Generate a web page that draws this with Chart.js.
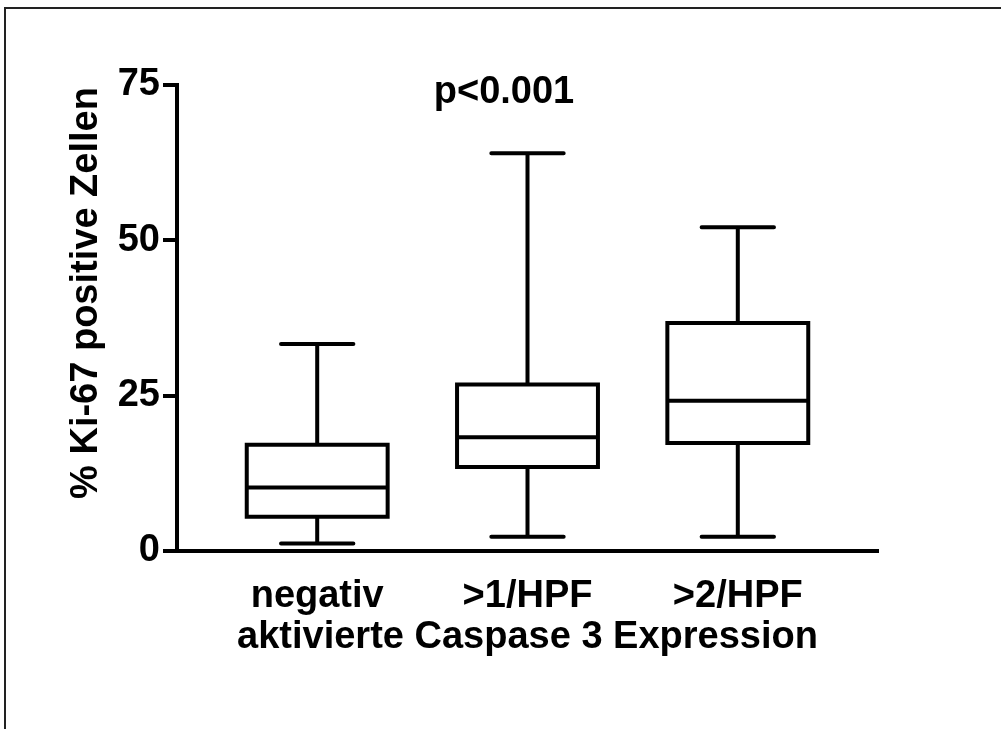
<!DOCTYPE html>
<html>
<head>
<meta charset="utf-8">
<script src="https://cdn.jsdelivr.net/npm/chart.js@4.4.1/dist/chart.umd.min.js"></script>
<style>
html, body { margin: 0; padding: 0; background: #fff; }
#wrap { position: relative; width: 1001px; height: 729px; overflow: hidden; background: #fff; }
#frame { position: absolute; left: 4px; top: 7px; width: 1200px; height: 900px; border-left: 2px solid #222; border-top: 2px solid #222; }
#chart { position: absolute; left: 0; top: 0; }
</style>
</head>
<body>
<div id="wrap">
  <div id="frame"></div>
  <canvas id="chart" width="1001" height="729"></canvas>
</div>
<script>
// values
const categories = ['negativ', '>1/HPF', '>2/HPF'];
const lowWhisker = [1.2, 2.3, 2.3];
const lowerQuartile = [5.5, 13.5, 17.4];
const medians = [10.2, 18.3, 24.2];
const upperQuartile = [17.1, 26.8, 36.7];
const highWhisker = [33.3, 64.0, 52.1];
const yTicks = [0, 25, 50, 75];

const FONT = { family: '"Liberation Sans", Arial, Helvetica, sans-serif', size: 38, weight: 'bold' };
const BOX_HALF = 0.335;
const CAP_HALF = 0.172;

// build the box plot out of line segments, a null y breaks the line
const boxPts = [], medianPts = [], whiskerPts = [], capPts = [];
categories.forEach(function(c, i){
    const x = i + 1;
    boxPts.push(
        {x: x - BOX_HALF, y: lowerQuartile[i]}, {x: x - BOX_HALF, y: upperQuartile[i]},
        {x: x + BOX_HALF, y: upperQuartile[i]}, {x: x + BOX_HALF, y: lowerQuartile[i]},
        {x: x - BOX_HALF, y: lowerQuartile[i]}, {x: x, y: null});
    medianPts.push({x: x - BOX_HALF, y: medians[i]}, {x: x + BOX_HALF, y: medians[i]}, {x: x, y: null});
    whiskerPts.push({x: x, y: upperQuartile[i]}, {x: x, y: highWhisker[i]}, {x: x, y: null},
                    {x: x, y: lowerQuartile[i]}, {x: x, y: lowWhisker[i]}, {x: x, y: null});
    capPts.push({x: x - CAP_HALF, y: highWhisker[i]}, {x: x + CAP_HALF, y: highWhisker[i]}, {x: x, y: null},
                {x: x - CAP_HALF, y: lowWhisker[i]}, {x: x + CAP_HALF, y: lowWhisker[i]}, {x: x, y: null});
});

function segs(data, cap) {
    return {
        data: data, borderColor: '#000', borderWidth: 4, pointRadius: 0, pointHoverRadius: 0,
        spanGaps: false, tension: 0, fill: false, borderCapStyle: cap, borderJoinStyle: 'miter'
    };
}

// p value and the y axis title
const extraText = {
    id: 'extraText',
    afterDraw: function(chart){
        const ctx = chart.ctx;
        ctx.save();
        ctx.fillStyle = '#000';
        ctx.font = 'bold 38px "Liberation Sans", Arial, Helvetica, sans-serif';
        ctx.textAlign = 'center';
        ctx.textBaseline = 'alphabetic';
        ctx.fillText('p<0.001', 504, 103);
        ctx.translate(87, 293);
        ctx.rotate(-Math.PI / 2);
        ctx.textBaseline = 'middle';
        ctx.fillText('% Ki-67 positive Zellen', 0, 0);
        ctx.restore();
    }
};

const chart = new Chart(document.getElementById('chart'), {
    type: 'line',
    data: {
        datasets: [segs(boxPts, 'square'), segs(medianPts, 'butt'), segs(whiskerPts, 'butt'), segs(capPts, 'round')]
    },
    options: {
        responsive: false,
        animation: false,
        events: [],
        layout: { padding: { left: 0, right: 123, top: 85, bottom: 0 } },
        plugins: { legend: { display: false }, tooltip: { enabled: false } },
        scales: {
            x: {
                type: 'linear', min: 1 / 3, max: 11 / 3,
                afterBuildTicks: function(s){ s.ticks = categories.map(function(c, i){ return {value: i + 1}; }); },
                afterFit: function(s){ s.height = 178; },
                grid: { display: false },
                border: { display: true, color: '#000', width: 4 },
                ticks: {
                    autoSkip: false, maxRotation: 0, color: '#000', font: FONT, padding: 15,
                    callback: function(v, i){ return categories[i]; }
                },
                title: { display: true, text: 'aktivierte Caspase 3 Expression', color: '#000', font: FONT, padding: { top: 0, bottom: 69 } }
            },
            y: {
                type: 'linear', min: 0, max: 75,
                afterBuildTicks: function(s){ s.ticks = yTicks.map(function(v){ return {value: v}; }); },
                afterFit: function(s){ s.width = 177; },
                grid: { display: true, drawOnChartArea: false, drawTicks: true, tickLength: 14, tickWidth: 4, tickColor: '#000', color: '#000', lineWidth: 4 },
                border: { display: true, color: '#000', width: 4 },
                ticks: { color: '#000', font: FONT, padding: 3 }
            }
        }
    },
    plugins: [extraText]
});
</script>
</body>
</html>
